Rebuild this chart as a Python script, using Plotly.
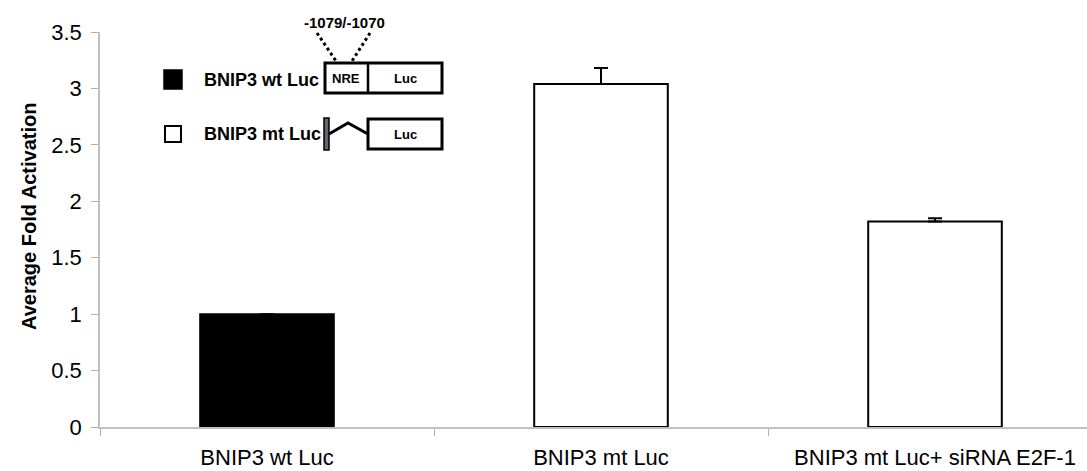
import plotly.graph_objects as go

categories = ["BNIP3 wt Luc", "BNIP3 mt Luc", "BNIP3 mt Luc+ siRNA E2F-1"]
values = [1.0, 3.04, 1.82]
errors_up = [0.0, 0.14, 0.03]
fill_colors = ["#000000", "#ffffff", "#ffffff"]
y_ticks = [0, 0.5, 1, 1.5, 2, 2.5, 3, 3.5]
y_tick_text = ["0", "0.5", "1", "1.5", "2", "2.5", "3", "3.5"]
legend_labels = ["BNIP3 wt Luc", "BNIP3 mt Luc"]
site_label = "-1079/-1070"
y_title = "Average Fold Activation"

W, H = 1087, 471
ML, MR, MT, MB = 100, 0, 32, 44
PW, PH = W - ML - MR, H - MT - MB


def px(x):
    return (x - ML) / PW


def py(y):
    return (H - MB - y) / PH


fig = go.Figure()
fig.add_trace(go.Bar(
    x=categories, y=values,
    marker=dict(color=fill_colors, line=dict(color="#000000", width=2)),
    error_y=dict(type="data", symmetric=False, array=errors_up,
                 arrayminus=[0, 0, 0], color="#000000", thickness=2, width=7),
    width=0.4, showlegend=False,
))

shapes = []
annots = []
# legend squares
shapes.append(dict(type="rect", xref="paper", yref="paper",
                   x0=px(164), x1=px(182), y0=py(89), y1=py(70),
                   fillcolor="#000000", line=dict(color="#000000", width=1.5)))
shapes.append(dict(type="rect", xref="paper", yref="paper",
                   x0=px(165), x1=px(181), y0=py(142), y1=py(126),
                   fillcolor="#ffffff", line=dict(color="#000000", width=2)))
for lab, yc in zip(legend_labels, [80, 134]):
    annots.append(dict(xref="paper", yref="paper", x=px(202), y=py(yc),
                       xanchor="left", yanchor="middle", text="<b>%s</b>" % lab,
                       showarrow=False,
                       font=dict(family="Liberation Sans", size=18, color="#000000")))
# wt construct
shapes.append(dict(type="rect", xref="paper", yref="paper",
                   x0=px(325), x1=px(442), y0=py(93), y1=py(63),
                   fillcolor="#ffffff", line=dict(color="#000000", width=3)))
shapes.append(dict(type="line", xref="paper", yref="paper",
                   x0=px(368), x1=px(368), y0=py(93), y1=py(63),
                   line=dict(color="#000000", width=2.5)))
annots.append(dict(xref="paper", yref="paper", x=px(346), y=py(79),
                   xanchor="center", yanchor="middle",
                   text="<b>NRE</b>", showarrow=False,
                   font=dict(family="Liberation Sans", size=13, color="#000000")))
annots.append(dict(xref="paper", yref="paper", x=px(405), y=py(79),
                   xanchor="center", yanchor="middle",
                   text="<b>Luc</b>", showarrow=False,
                   font=dict(family="Liberation Sans", size=13, color="#000000")))
# dotted lines
shapes.append(dict(type="line", xref="paper", yref="paper",
                   x0=px(317), x1=px(336), y0=py(33), y1=py(61),
                   line=dict(color="#000000", width=3, dash="dot")))
shapes.append(dict(type="line", xref="paper", yref="paper",
                   x0=px(370), x1=px(352), y0=py(33), y1=py(61),
                   line=dict(color="#000000", width=3, dash="dot")))
annots.append(dict(xref="paper", yref="paper", x=px(344), y=py(22),
                   xanchor="center", yanchor="middle",
                   text="<b>%s</b>" % site_label, showarrow=False,
                   font=dict(family="Liberation Sans", size=15, color="#000000")))
# mt construct
shapes.append(dict(type="rect", xref="paper", yref="paper",
                   x0=px(324), x1=px(329), y0=py(150), y1=py(118),
                   fillcolor="#666666", line=dict(color="#000000", width=1.5)))
shapes.append(dict(type="path", xref="paper", yref="paper",
                   path="M %f,%f L %f,%f L %f,%f" % (px(329), py(134), px(348), py(123), px(368), py(134)),
                   line=dict(color="#000000", width=3)))
shapes.append(dict(type="rect", xref="paper", yref="paper",
                   x0=px(368), x1=px(442), y0=py(149), y1=py(119),
                   fillcolor="#ffffff", line=dict(color="#000000", width=3)))
annots.append(dict(xref="paper", yref="paper", x=px(405), y=py(134),
                   xanchor="center", yanchor="middle",
                   text="<b>Luc</b>", showarrow=False,
                   font=dict(family="Liberation Sans", size=13, color="#000000")))
# y-axis title
annots.append(dict(xref="paper", yref="paper", x=px(29), y=py(217),
                   xanchor="center", yanchor="middle", textangle=-90,
                   text="<b>%s</b>" % y_title, showarrow=False,
                   font=dict(family="Liberation Sans", size=20, color="#000000")))

fig.update_layout(
    width=W, height=H,
    margin=dict(l=ML, r=MR, t=MT, b=MB, pad=0, autoexpand=False),
    paper_bgcolor="#ffffff", plot_bgcolor="#ffffff",
    font=dict(family="Liberation Sans", color="#000000"),
    shapes=shapes, annotations=annots,
    xaxis=dict(range=[-0.5, -0.5 + PW / 334.0], showgrid=False,
               showline=True, linecolor="#c0c0c0", linewidth=1.5,
               ticks="outside", tickson="boundaries", ticklen=7,
               tickcolor="#b0b0b0", tickwidth=1,
               tickfont=dict(family="Liberation Sans", size=22, color="#000000"),
               ticklabelstandoff=10, zeroline=False),
    yaxis=dict(range=[0, 3.5], tickvals=y_ticks, ticktext=y_tick_text,
               showgrid=False, showline=True, linecolor="#c0c0c0", linewidth=1.5,
               ticks="outside", ticklen=7, tickcolor="#b0b0b0", tickwidth=1,
               tickfont=dict(family="Liberation Sans", size=22, color="#000000"),
               ticklabelstandoff=5, zeroline=False),
)

fig.write_html("out.html", config={"displayModeBar": False},
               post_script="document.body.style.margin='0';")
